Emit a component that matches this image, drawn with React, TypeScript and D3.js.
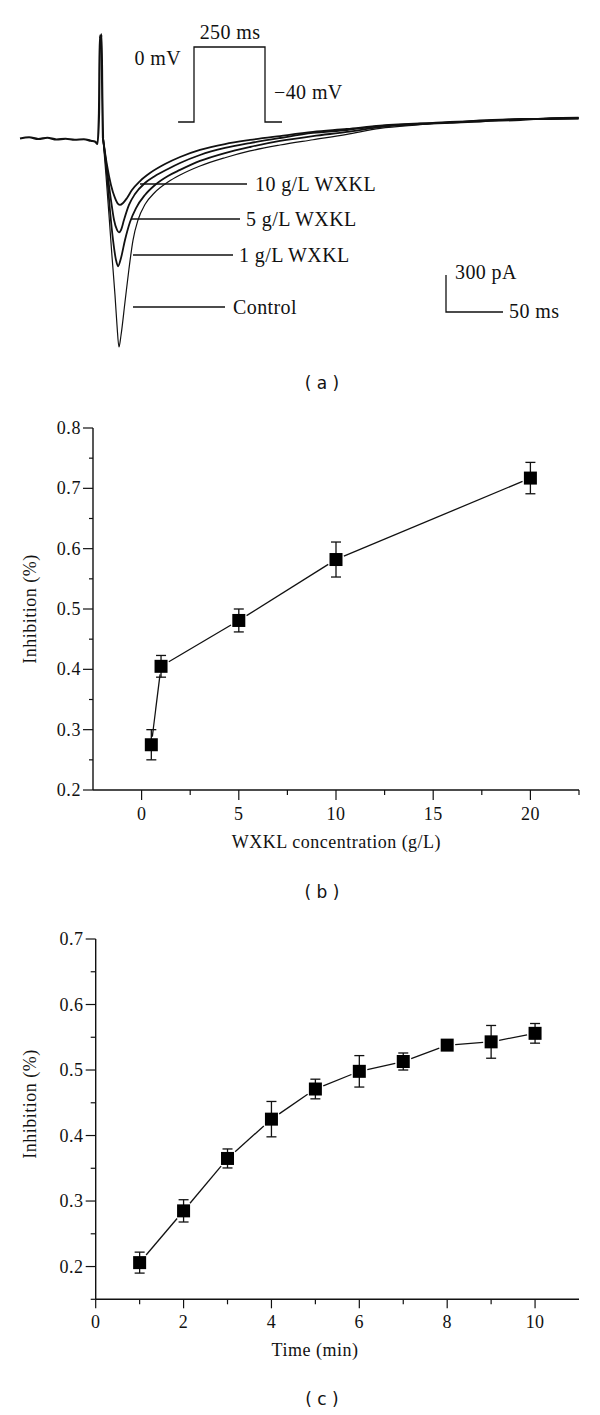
import React from 'react';
import * as d3 from 'd3';

// ---------- Panel (a): current traces (time in ms, current in pA) ----------
const preSpike: [number, number][] = [
  [0, -4], [8, 6], [16, -8], [24, 2], [32, -12], [40, -6], [48, -14], [56, -10],
  [62, -22], [66, -30], [68, -48], [69.3, 200], [70, 830], [70.8, 790], [71.5, 840],
  [72.2, 320], [72.8, 0],
];
const controlTrace: [number, number][] = [
  [75.4, -300], [78.1, -630], [80.7, -960], [83.3, -1270], [85.1, -1520], [86.8, -1695],
  [88.6, -1600], [92.1, -1330], [95.6, -1060], [99.1, -830], [103.5, -665], [109.6, -540],
  [118.4, -440], [129.8, -357], [140.4, -300], [157.9, -227], [179.8, -160], [201.8, -105],
  [228.1, -57], [257, -14], [286.8, 30], [315.8, 78], [350.9, 108],
  [377, 128], [403, 140], [439, 150], [465, 160], [490, 164],
];
const wxkl1Trace: [number, number][] = [
  [76.3, -300], [78.9, -584], [81.6, -827], [84.2, -989], [86, -1040], [88.6, -973],
  [92.1, -827], [96.5, -681], [101.8, -568], [109.6, -462], [118.4, -381], [129.8, -308],
  [140.4, -259], [157.9, -186], [179.8, -122], [201.8, -73], [228.1, -24], [257, 16],
  [286.8, 49], [315.8, 89], [350.9, 112],
  [377, 122], [403, 134], [439, 154], [465, 156], [490, 160],
];
const wxkl5Trace: [number, number][] = [
  [76.3, -259], [79.8, -503], [82.5, -665], [85.1, -746], [86.8, -765], [88.6, -746],
  [91.2, -665], [95.6, -543], [100.9, -454], [109.6, -365], [118.4, -308], [129.8, -251],
  [140.4, -203], [157.9, -138], [179.8, -81], [201.8, -41], [228.1, 0], [257, 41],
  [286.8, 65], [315.8, 97], [350.9, 116],
  [377, 130], [403, 136], [439, 146], [465, 162], [490, 166],
];
const wxkl10Trace: [number, number][] = [
  [76.3, -219], [79.8, -381], [83.3, -486], [86, -535], [87.7, -543], [90.4, -527],
  [93.9, -486], [98.2, -422], [105.3, -349], [114, -284], [127.2, -211], [140.4, -154],
  [157.9, -97], [179.8, -49], [201.8, -16], [228.1, 16], [257, 49], [286.8, 73],
  [315.8, 100], [350.9, 118],
  [377, 124], [403, 142], [439, 152], [465, 154], [490, 158],
];
const traceLabels = ['10 g/L WXKL', '5 g/L WXKL', '1 g/L WXKL', 'Control'];

// voltage protocol (ms, mV)
const protocolPoints: [number, number][] = [
  [-56, -40], [0, -40], [0, 0], [250, 0], [250, -40], [310, -40],
];
const protocolLabels = ['0 mV', '250 ms', '\u221240 mV'];
const scaleBarPA = 300;
const scaleBarMs = 50;

// ---------- Panel (b) ----------
const concentrations = [0.5, 1, 5, 10, 20];
const inhibitionB = [0.275, 0.405, 0.481, 0.582, 0.717];
const errB = [0.025, 0.018, 0.019, 0.029, 0.026];
const bMajorX = [0, 5, 10, 15, 20];
const bMinorX = [2.5, 7.5, 12.5, 17.5, 22.5];
const bMajorY = [0.2, 0.3, 0.4, 0.5, 0.6, 0.7, 0.8];
const bMinorY = [0.25, 0.35, 0.45, 0.55, 0.65, 0.75];

// ---------- Panel (c) ----------
const times = [1, 2, 3, 4, 5, 6, 7, 8, 9, 10];
const inhibitionC = [0.206, 0.285, 0.365, 0.425, 0.471, 0.498, 0.513, 0.538, 0.543, 0.556];
const errC = [0.016, 0.017, 0.0145, 0.027, 0.015, 0.024, 0.013, 0.008, 0.025, 0.015];
const cMajorX = [0, 2, 4, 6, 8, 10];
const cMinorX = [1, 3, 5, 7, 9];
const cMajorY = [0.2, 0.3, 0.4, 0.5, 0.6, 0.7];
const cMinorY = [0.15, 0.25, 0.35, 0.45, 0.55, 0.65];

const SERIF = "Liberation Serif, Times New Roman, serif";
const SANS = "DejaVu Sans, Verdana, sans-serif";

type Lin = d3.ScaleLinear<number, number>;

function ScatterPanel(props: {
  x: Lin; y: Lin; xs: number[]; ys: number[]; errs: number[];
  majorX: number[]; minorX: number[]; majorY: number[]; minorY: number[];
  xTitle: string; xTitleX: number; yTitleY: number; xLabelDy: number;
  majX: number; minX: number; majY: number; minY: number;
}) {
  const { x, y, xs, ys, errs } = props;
  const [x0, x1] = x.range();
  const [y0, y1] = y.range();
  const half = 6.5;
  const pts = xs.map((v, i) => [x(v), y(ys[i])]);
  const segs: string[] = [];
  for (let i = 0; i < pts.length - 1; i++) {
    const [ax, ay] = pts[i];
    const [bx, by] = pts[i + 1];
    const dx = bx - ax, dy = by - ay;
    const L = Math.hypot(dx, dy);
    const c = Math.abs(dx) / L, s = Math.abs(dy) / L;
    const g = half / Math.max(c, s) + 1.5;
    if (L <= 2 * g) continue;
    const ux = dx / L, uy = dy / L;
    segs.push(`M${ax + ux * g},${ay + uy * g}L${bx - ux * g},${by - uy * g}`);
  }
  const fmt = d3.format('.1f');
  return (
    <g fontFamily={SERIF} fill="#111">
      <line x1={x0} x2={x1} y1={y0} y2={y0} stroke="#111" strokeWidth={1.4} />
      <line x1={x0} x2={x0} y1={y0} y2={y1} stroke="#111" strokeWidth={1.4} />
      {props.majorX.map((v) => (
        <g key={'mx' + v}>
          <line x1={x(v)} x2={x(v)} y1={y0} y2={y0 + props.majX} stroke="#111" strokeWidth={1.2} />
          <text x={x(v)} y={y0 + props.xLabelDy} textAnchor="middle" fontSize={18} letterSpacing={0.4}>{v}</text>
        </g>
      ))}
      {props.minorX.map((v) => (
        <line key={'nx' + v} x1={x(v)} x2={x(v)} y1={y0} y2={y0 + props.minX} stroke="#111" strokeWidth={1.2} />
      ))}
      {props.majorY.map((v) => (
        <g key={'my' + v}>
          <line x1={x0 - props.majY} x2={x0} y1={y(v)} y2={y(v)} stroke="#111" strokeWidth={1.2} />
          <text x={x0 - 12} y={y(v) + 6} textAnchor="end" fontSize={18} letterSpacing={0.6}>{fmt(v)}</text>
        </g>
      ))}
      {props.minorY.map((v) => (
        <line key={'ny' + v} x1={x0 - props.minY} x2={x0} y1={y(v)} y2={y(v)} stroke="#111" strokeWidth={1.2} />
      ))}
      <text x={props.xTitleX} y={y0 + props.xLabelDy + 28} textAnchor="middle" fontSize={18} letterSpacing={0.5}>{props.xTitle}</text>
      <text transform={`translate(36,${props.yTitleY}) rotate(-90)`} textAnchor="middle" fontSize={18} letterSpacing={0.5}>Inhibition (%)</text>
      {segs.map((d, i) => <path key={'s' + i} d={d} stroke="#111" strokeWidth={1.3} fill="none" />)}
      {xs.map((v, i) => {
        const px = x(v);
        const top = y(ys[i] + errs[i]);
        const bot = y(ys[i] - errs[i]);
        return (
          <g key={'e' + i} stroke="#111" strokeWidth={1.3}>
            <line x1={px} x2={px} y1={top} y2={bot} />
            <line x1={px - 5} x2={px + 5} y1={top} y2={top} />
            <line x1={px - 5} x2={px + 5} y1={bot} y2={bot} />
          </g>
        );
      })}
      {pts.map(([px, py], i) => (
        <rect key={'p' + i} x={px - half} y={py - half} width={half * 2} height={half * 2} fill="#000" />
      ))}
    </g>
  );
}

export default function App() {
  // panel (a) scales
  const xA = d3.scaleLinear().domain([0, 490]).range([20, 578.6]);
  const yA = d3.scaleLinear().domain([0, 1000]).range([138, 14.7]);
  const lineA = d3.line<[number, number]>().x((d) => xA(d[0])).y((d) => yA(d[1])).curve(d3.curveMonotoneX);
  const traces = [
    { data: wxkl10Trace, w: 1.8 },
    { data: wxkl5Trace, w: 1.8 },
    { data: wxkl1Trace, w: 1.8 },
    { data: controlTrace, w: 1.2 },
  ];
  const xP = d3.scaleLinear().domain([0, 250]).range([194, 265]);
  const yP = d3.scaleLinear().domain([-40, 0]).range([122, 47]);
  const lineP = d3.line<[number, number]>().x((d) => xP(d[0])).y((d) => yP(d[1]));

  const barX = 446, barY = 312;
  const barH = yA(0) - yA(scaleBarPA);
  const barW = xA(scaleBarMs) - xA(0);

  // label leader lines: [x1, x2, y, textX]
  const leaders = [
    [140, 247, 184, 255],
    [131, 240, 219, 246],
    [133, 233, 255, 239],
    [133, 225, 307, 233],
  ];

  // panel (b) scales
  const xB = d3.scaleLinear().domain([-2.5, 22.5]).range([93, 579]);
  const yB = d3.scaleLinear().domain([0.2, 0.8]).range([790, 428]);
  // panel (c) scales
  const xC = d3.scaleLinear().domain([0, 11]).range([95.7, 579]);
  const yC = d3.scaleLinear().domain([0.15, 0.7]).range([1299.3, 939]);

  return (
    <svg width={600} height={1415} style={{ position: 'absolute', left: 0, top: 0, background: '#fff' }}>
      <rect width={600} height={1415} fill="#fff" />
      {/* Panel (a) */}
      <g>
        <path d={lineA(preSpike) || ''} stroke="#111" strokeWidth={2.2} fill="none" />
        {traces.map((t, i) => (
          <path key={i} d={lineA([preSpike[preSpike.length - 1], ...t.data]) || ''} stroke="#111" strokeWidth={t.w} fill="none" />
        ))}
        <path d={lineP(protocolPoints) || ''} stroke="#111" strokeWidth={1.3} fill="none" />
        <g fontFamily={SERIF} fontSize={20} letterSpacing={0.4} fill="#111">
          <text x={181} y={65} textAnchor="end">{protocolLabels[0]}</text>
          <text x={230} y={39} textAnchor="middle">{protocolLabels[1]}</text>
          <text x={274} y={99}>{protocolLabels[2]}</text>
          {leaders.map((l, i) => (
            <g key={i}>
              <line x1={l[0]} x2={l[1]} y1={l[2]} y2={l[2]} stroke="#111" strokeWidth={1.3} />
              <text x={l[3]} y={l[2] + 7}>{traceLabels[i]}</text>
            </g>
          ))}
          <path d={`M${barX},${barY - barH}V${barY}H${barX + barW}`} stroke="#111" strokeWidth={1.3} fill="none" />
          <text x={455} y={279}>{`${scaleBarPA} pA`}</text>
          <text x={509} y={318}>{`${scaleBarMs} ms`}</text>
        </g>
        <text x={322} y={389} textAnchor="middle" fontFamily={SANS} fontSize={17} fill="#111">( a )</text>
      </g>

      {/* Panel (b) */}
      <ScatterPanel x={xB} y={yB} xs={concentrations} ys={inhibitionB} errs={errB}
        majorX={bMajorX} minorX={bMinorX} majorY={bMajorY} minorY={bMinorY}
        xTitle="WXKL concentration (g/L)" xTitleX={336.5} yTitleY={609} xLabelDy={30}
        majX={10} minX={5} majY={10} minY={4} />
      <text x={322} y={898} textAnchor="middle" fontFamily={SANS} fontSize={17} fill="#111">( b )</text>

      {/* Panel (c) */}
      <ScatterPanel x={xC} y={yC} xs={times} ys={inhibitionC} errs={errC}
        majorX={cMajorX} minorX={cMinorX} majorY={cMajorY} minorY={cMinorY}
        xTitle="Time (min)" xTitleX={315} yTitleY={1104} xLabelDy={29}
        majX={9} minX={5} majY={10} minY={5} />
      <text x={322} y={1405} textAnchor="middle" fontFamily={SANS} fontSize={17} fill="#111">( c )</text>
    </svg>
  );
}
